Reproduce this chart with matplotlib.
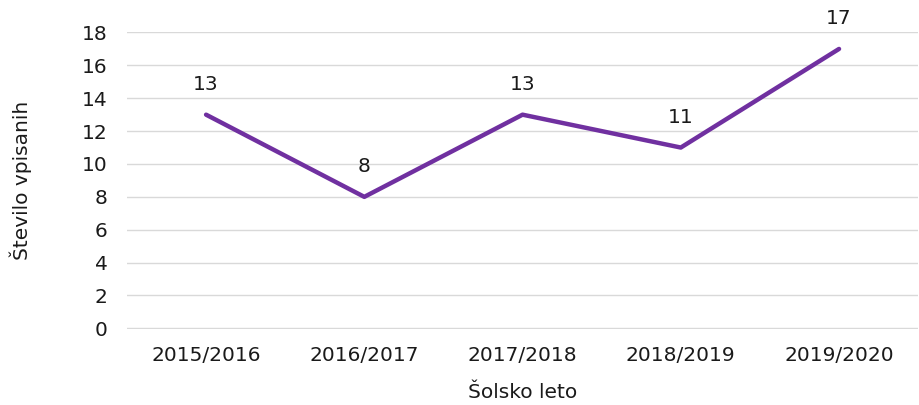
import matplotlib.pyplot as plt

years = ['2015/2016', '2016/2017', '2017/2018', '2018/2019', '2019/2020']
enrolled = [13, 8, 13, 11, 17]
yticks = [0, 2, 4, 6, 8, 10, 12, 14, 16, 18]

plt.rcParams['font.family'] = ['DejaVu Sans']
text_col = '#1a1a1a'

fig = plt.figure(figsize=(9.2, 4.05), dpi=100)
ax = fig.add_axes([0.138, 0.188, 0.860, 0.733])

x = range(len(years))
ax.plot(x, enrolled, color='#7030A0', linewidth=3.2, solid_capstyle='round', clip_on=False, zorder=3)

for xi, v in zip(x, enrolled):
    ax.annotate(str(v), (xi, v), xytext=(0, 15), textcoords='offset points',
                ha='center', va='bottom', fontsize=14.5, color=text_col)

ax.set_xlim(-0.5, len(years) - 0.5)
ax.set_ylim(-0.03, 18.03)
ax.set_yticks(yticks)
ax.set_xticks(list(x))
ax.set_xticklabels(years)
ax.grid(axis='y', color='#d9d9d9', linewidth=1.0)
ax.set_axisbelow(True)
for s in ax.spines.values():
    s.set_visible(False)
ax.tick_params(axis='both', length=0, labelsize=14.5, labelcolor=text_col)
ax.tick_params(axis='y', pad=14)
ax.tick_params(axis='x', pad=12)

ax.set_ylabel('Število vpisanih', fontsize=14.5, color=text_col, labelpad=36)
ax.set_xlabel('Šolsko leto', fontsize=14.5, color=text_col, labelpad=13)

fig.savefig('out.png', dpi=100)
